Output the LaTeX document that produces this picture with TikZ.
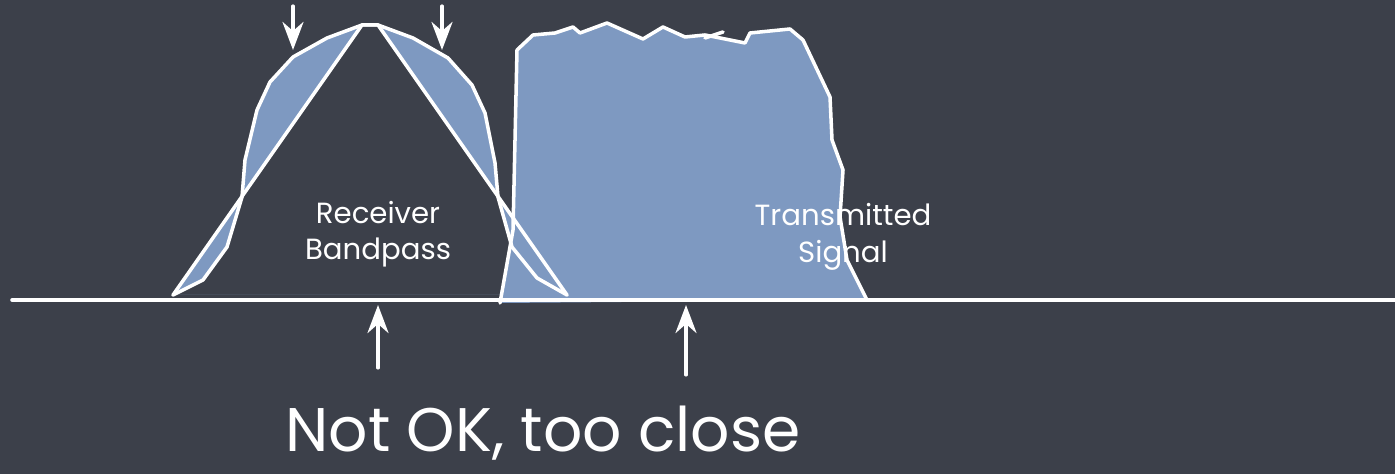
\documentclass[tikz,border=0pt]{standalone}
\usepackage{fontspec}
\setmainfont{Poppins}
\usetikzlibrary{arrows.meta}
\definecolor{slateboard}{RGB}{60,64,74}
\definecolor{chalkblue}{RGB}{126,153,193}

\begin{document}
\begin{tikzpicture}[x=0.01cm, y=-0.01cm, line join=round, line cap=round,
  chalk/.style={white, line width=1pt},
  pointer/.style={white, line width=0.9pt, -{Stealth[length=8pt, width=6pt]}},
  boardtext/.style={white, align=center, font=\fontsize{8.3}{10.4}\selectfont}]
  % board
  \fill[slateboard] (0,0) rectangle (1395,474);
  \useasboundingbox (0,0) rectangle (1395,474);

  % transmitted signal
  \fill[chalkblue] (500,303) -- (513,230) -- (517,50) -- (533,35) -- (555,33) -- (573,27) -- (580,33)
    -- (607,23) -- (643,39) -- (663,27) -- (685,37) -- (705,35) -- (745,43) -- (750,33) -- (790,29)
    -- (803,40) -- (830,97) -- (832,140) -- (843,170) -- (840,217) -- (847,260) -- (867,300) -- cycle;

  % receiver bandpass, filled between curve and triangle
  \fill[chalkblue, even odd rule]
    (173,295) -- (203,280) -- (227,247) -- (242,197) -- (245,160) -- (257,110) -- (270,82) -- (293,57)
    -- (327,38) -- (362,25) -- (378,25) -- (413,38) -- (448,58) -- (472,85) -- (485,113) -- (495,163)
    -- (498,197) -- (512,247) -- (537,278) -- (567,295) -- cycle
    (173,295) -- (362,25) -- (378,25) -- (567,295) -- cycle;

  \draw[chalk] (500,303) -- (513,230) -- (517,50) -- (533,35) -- (555,33) -- (573,27) -- (580,33)
    -- (607,23) -- (643,39) -- (663,27) -- (685,37) -- (705,35) -- (745,43) -- (750,33) -- (790,29)
    -- (803,40) -- (830,97) -- (832,140) -- (843,170) -- (840,217) -- (847,260) -- (867,300);
  \draw[chalk] (705,38) -- (723,32);
  \draw[chalk] (173,295) -- (203,280) -- (227,247) -- (242,197) -- (245,160) -- (257,110) -- (270,82)
    -- (293,57) -- (327,38) -- (362,25) -- (378,25) -- (413,38) -- (448,58) -- (472,85) -- (485,113)
    -- (495,163) -- (498,197) -- (512,247) -- (537,278) -- (567,295);
  \draw[chalk] (173,295) -- (362,25) -- (378,25) -- (567,295);

  % axis
  \coordinate (axisL) at (12,300);
  \coordinate (axisR) at (1395,300);
  \draw[chalk] (axisL) -- (axisR);

  % arrows
  \foreach \n/\x in {edgeL/293, edgeR/442} {
    \coordinate (\n-top) at (\x,6);
    \coordinate (\n-tip) at (\x,50);
    \draw[pointer] (\n-top) -- (\n-tip);
  }
  \foreach \n/\x/\y in {rxmid/378/368, txmid/686/375} {
    \coordinate (\n-foot) at (\x,\y);
    \coordinate (\n-tip) at (\x,305);
    \draw[pointer] (\n-foot) -- (\n-tip);
  }

  % labels
  \node[boardtext] (rxlabel) at (378,234) {Receiver\\Bandpass};
  \node[boardtext] (txlabel) at (843,237) {Transmitted\\Signal};
  \node[white, anchor=base, inner sep=0pt, font=\fontsize{17.5}{20}\selectfont] (verdict) at (543,452) {Not OK, too close};
\end{tikzpicture}
\end{document}
